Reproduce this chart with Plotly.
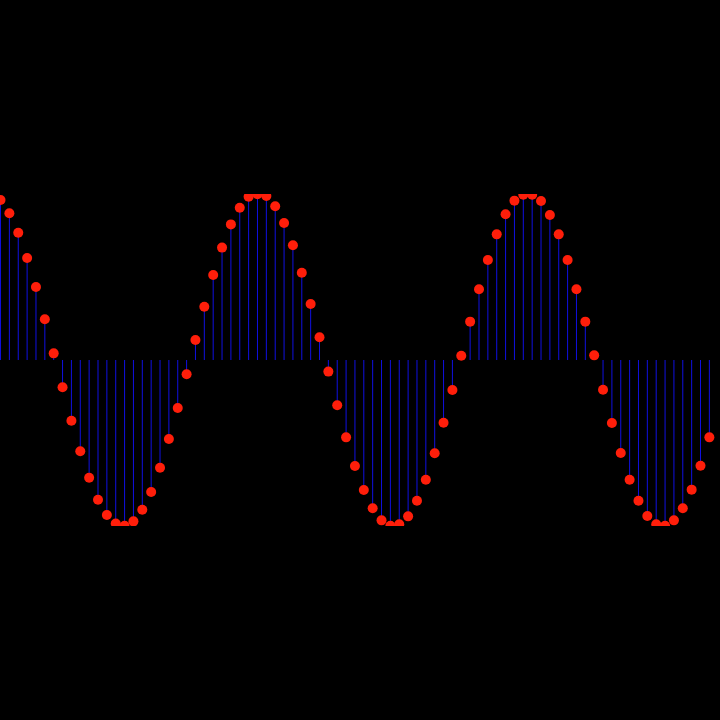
import plotly.graph_objects as go

sample_index = list(range(81))
sample_values = [
    0.964, 0.884, 0.767, 0.614, 0.440, 0.245, 0.040, -0.164, -0.366, -0.550,
    -0.709, -0.842, -0.934, -0.985, -0.998, -0.972, -0.902, -0.795, -0.649, -0.476,
    -0.289, -0.086, 0.120, 0.321, 0.512, 0.677, 0.817, 0.917, 0.984, 0.999,
    0.988, 0.926, 0.825, 0.691, 0.526, 0.337, 0.137, -0.070, -0.273, -0.466,
    -0.639, -0.783, -0.893, -0.966, -0.998, -0.989, -0.942, -0.848, -0.721, -0.562,
    -0.378, -0.181, 0.026, 0.231, 0.426, 0.602, 0.757, 0.878, 0.960, 0.996,
    0.996, 0.958, 0.873, 0.757, 0.602, 0.426, 0.231, 0.028, -0.179, -0.380,
    -0.560, -0.721, -0.848, -0.940, -0.989, -0.998, -0.966, -0.893, -0.781, -0.637,
    -0.466,
]
baseline = 0.0

stem_x, stem_y = [], []
for xi, yi in zip(sample_index, sample_values):
    stem_x += [xi, xi, None]
    stem_y += [baseline, yi, None]

fig = go.Figure()
fig.add_trace(go.Scatter(
    x=stem_x, y=stem_y, mode="lines",
    line=dict(color="#1010e0", width=1),
    hoverinfo="skip", showlegend=False,
))
fig.add_trace(go.Scatter(
    x=sample_index, y=sample_values, mode="markers",
    marker=dict(color="#ff1e0a", size=10, line=dict(width=0)),
    showlegend=False, cliponaxis=True,
))

fig.update_layout(
    width=720, height=720,
    paper_bgcolor="black", plot_bgcolor="black",
    margin=dict(l=0, r=0, t=194, b=194),
    xaxis=dict(range=[-0.06, 81.2], visible=False, showgrid=False, zeroline=False),
    yaxis=dict(range=[-1.0, 1.0], visible=False, showgrid=False, zeroline=False),
    showlegend=False,
)

fig.write_html("out.html")
